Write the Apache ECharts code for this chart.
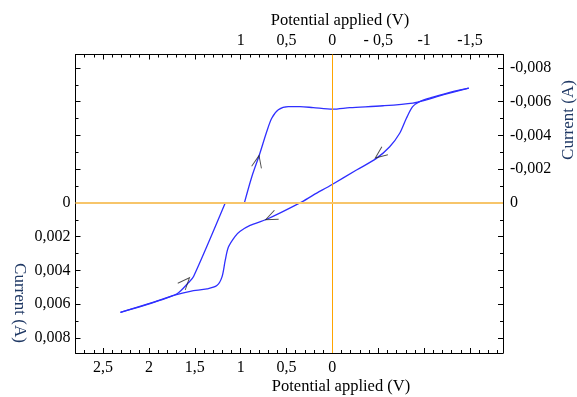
<!DOCTYPE html>
<html>
<head>
<meta charset="utf-8">
<title>Voltammogram</title>
<script src="https://cdn.jsdelivr.net/npm/echarts@6.0.0/dist/echarts.min.js"></script>
<style>
html, body { margin: 0; padding: 0; background: #fff; }
#chart { width: 577px; height: 397px; }
</style>
</head>
<body>
<div id="chart"></div>
<script>
// forward scan, upper branch (V, A)
var forwardV = [0.959, 0.878, 0.796, 0.715, 0.661, 0.589, 0.480, 0.353, 0.209, -0.002, -0.190, -0.552, -0.878, -1.024, -1.168, -1.487];
var forwardI = [0, -0.00155, -0.00284, -0.00423, -0.00502, -0.00552, -0.00571, -0.00571, -0.00565, -0.00556, -0.00565, -0.00576, -0.00592, -0.00611, -0.00635, -0.00681];
// return scan, lower branch
var returnV = [-1.487, -1.332, -1.096, -0.951, -0.875, -0.807, -0.734, -0.625, -0.480, -0.263, -0.002, 0.209, 0.353, 0.715, 0.897, 1.005, 1.060, 1.133, 1.168, 1.204, 1.259, 1.367, 1.549, 1.730, 1.948, 2.310];
var returnI = [-0.00681, -0.00663, -0.00627, -0.00601, -0.00571, -0.00502, -0.00413, -0.00333, -0.00264, -0.00195, -0.00111, -0.00046, 0, 0.00097, 0.00133, 0.00168, 0.00198, 0.00262, 0.00341, 0.00440, 0.00490, 0.00510, 0.00524, 0.00549, 0.00589, 0.00649];
// rise back to zero current
var riseV = [2.310, 2.057, 1.875, 1.693, 1.567, 1.513, 1.168];
var riseI = [0.00649, 0.00609, 0.00576, 0.00539, 0.00472, 0.00436, 0];

// scan direction arrows
var arrowV = [0.813, -0.520, 0.668, 1.601];
var arrowI = [-0.00246, -0.00288, 0.00085, 0.00470];
var arrowAngle = [-12, 127, 115, -42];

// ticks and labels
var xMajorTicks = [-1.5, -1, -0.5, 0, 0.5, 1, 1.5, 2, 2.5];
var bottomValues = [2.5, 2, 1.5, 1, 0.5, 0];
var bottomLabels = ['2,5', '2', '1,5', '1', '0,5', '0'];
var topValues = [1, 0.5, 0, -0.5, -1, -1.5];
var topLabels = ['1', '0,5', '0', '- 0,5', '-1', '-1,5'];
var yMajorTicks = [-0.008, -0.006, -0.004, -0.002, 0, 0.002, 0.004, 0.006, 0.008];
var leftValues = [0, 0.002, 0.004, 0.006, 0.008];
var leftLabels = ['0', '0,002', '0,004', '0,006', '0,008'];
var rightValues = [-0.008, -0.006, -0.004, -0.002, 0];
var rightLabels = ['-0,008', '-0,006', '-0,004', '-0,002', '0'];

var xMin = -1.86, xMax = 2.8;
var yMin = -0.0088, yMax = 0.0089;

var xMinorTicks = [];
for (var i = -18; i <= 27; i++) xMinorTicks.push(i / 10);
var yMinorTicks = [];
for (var j = -8; j <= 8; j++) yMinorTicks.push(j / 1000);

function pairs(xs, ys) {
    var out = [];
    for (var k = 0; k < xs.length; k++) out.push([xs[k], ys[k]]);
    return out;
}

function labelFor(values, labels) {
    return function (v) {
        for (var k = 0; k < values.length; k++) {
            if (Math.abs(values[k] - v) < 1e-9) return labels[k];
        }
        return '';
    };
}

var font = '"Liberation Serif", "Times New Roman", serif';

function axis(pos, isX, ticks, values, labels, margin) {
    return {
        type: 'value',
        position: pos,
        min: isX ? xMin : yMin,
        max: isX ? xMax : yMax,
        inverse: true,
        splitLine: { show: false },
        axisLine: { show: true, onZero: false, lineStyle: { color: '#000', width: 1 } },
        axisTick: { show: true, inside: true, length: 5, customValues: ticks, lineStyle: { color: '#000', width: 1 } },
        axisLabel: {
            show: true, customValues: values, formatter: labelFor(values, labels), margin: margin,
            color: '#000', fontFamily: font, fontSize: 16
        },
        axisPointer: { show: false }
    };
}

function minorAxis(pos, isX, ticks) {
    return {
        type: 'value',
        position: pos,
        min: isX ? xMin : yMin,
        max: isX ? xMax : yMax,
        inverse: true,
        splitLine: { show: false },
        axisLine: { show: false, onZero: false },
        axisTick: { show: true, inside: true, length: 3, customValues: ticks, lineStyle: { color: '#000', width: 1 } },
        axisLabel: { show: false }
    };
}

var curveStyle = { color: '#2f2fff', width: 1.3 };

var myChart = echarts.init(document.getElementById('chart'));
var option = {
    animation: false,
    grid: { left: 75.5, right: 74, top: 54.5, bottom: 44 },
    xAxis: [
        axis('bottom', true, xMajorTicks, bottomValues, bottomLabels, 7),
        axis('top', true, xMajorTicks, topValues, topLabels, 6),
        minorAxis('bottom', true, xMinorTicks),
        minorAxis('top', true, xMinorTicks)
    ],
    yAxis: [
        axis('left', false, yMajorTicks, leftValues, leftLabels, 5),
        axis('right', false, yMajorTicks, rightValues, rightLabels, 7),
        minorAxis('left', false, yMinorTicks),
        minorAxis('right', false, yMinorTicks)
    ],
    graphic: [
        { type: 'text', x: 341, y: 387, style: { text: 'Potential applied (V)', font: '16.5px ' + font, fill: '#000', textAlign: 'center', textVerticalAlign: 'middle', align: 'center', verticalAlign: 'middle' } },
        { type: 'text', x: 340, y: 21, style: { text: 'Potential applied (V)', font: '16.5px ' + font, fill: '#000', textAlign: 'center', textVerticalAlign: 'middle', align: 'center', verticalAlign: 'middle' } },
        { type: 'text', x: 19.5, y: 303, rotation: -Math.PI / 2, style: { text: 'Current (A)', font: '17px ' + font, fill: '#1f3864', textAlign: 'center', textVerticalAlign: 'middle', align: 'center', verticalAlign: 'middle' } },
        { type: 'text', x: 569, y: 120, rotation: Math.PI / 2, style: { text: 'Current (A)', font: '17px ' + font, fill: '#1f3864', textAlign: 'center', textVerticalAlign: 'middle', align: 'center', verticalAlign: 'middle' } }
    ],
    series: [
        {
            name: 'zero',
            type: 'line',
            data: [],
            z: 1,
            silent: true,
            markLine: {
                silent: true,
                symbol: ['none', 'none'],
                label: { show: false },
                data: [
                    { xAxis: 0, lineStyle: { color: '#ffa500', width: 1, type: 'solid' } },
                    { yAxis: 0, lineStyle: { color: '#f7c56a', width: 2, type: 'solid' } }
                ]
            }
        },
        { name: 'forward', type: 'line', data: pairs(forwardV, forwardI), showSymbol: false, smooth: 0.3, lineStyle: curveStyle, z: 3 },
        { name: 'return', type: 'line', data: pairs(returnV, returnI), showSymbol: false, smooth: 0.3, lineStyle: curveStyle, z: 3 },
        { name: 'rise', type: 'line', data: pairs(riseV, riseI), showSymbol: false, smooth: 0.3, lineStyle: curveStyle, z: 3 },
        {
            name: 'arrows',
            type: 'scatter',
            z: 4,
            symbol: 'path://M0,12L5,0L10,12',
            symbolSize: [10, 12],
            itemStyle: { color: 'none', borderColor: '#222', borderWidth: 1 },
            data: arrowV.map(function (v, k) {
                return { value: [v, arrowI[k]], symbolRotate: arrowAngle[k] };
            })
        }
    ]
};
myChart.setOption(option);
</script>
</body>
</html>
